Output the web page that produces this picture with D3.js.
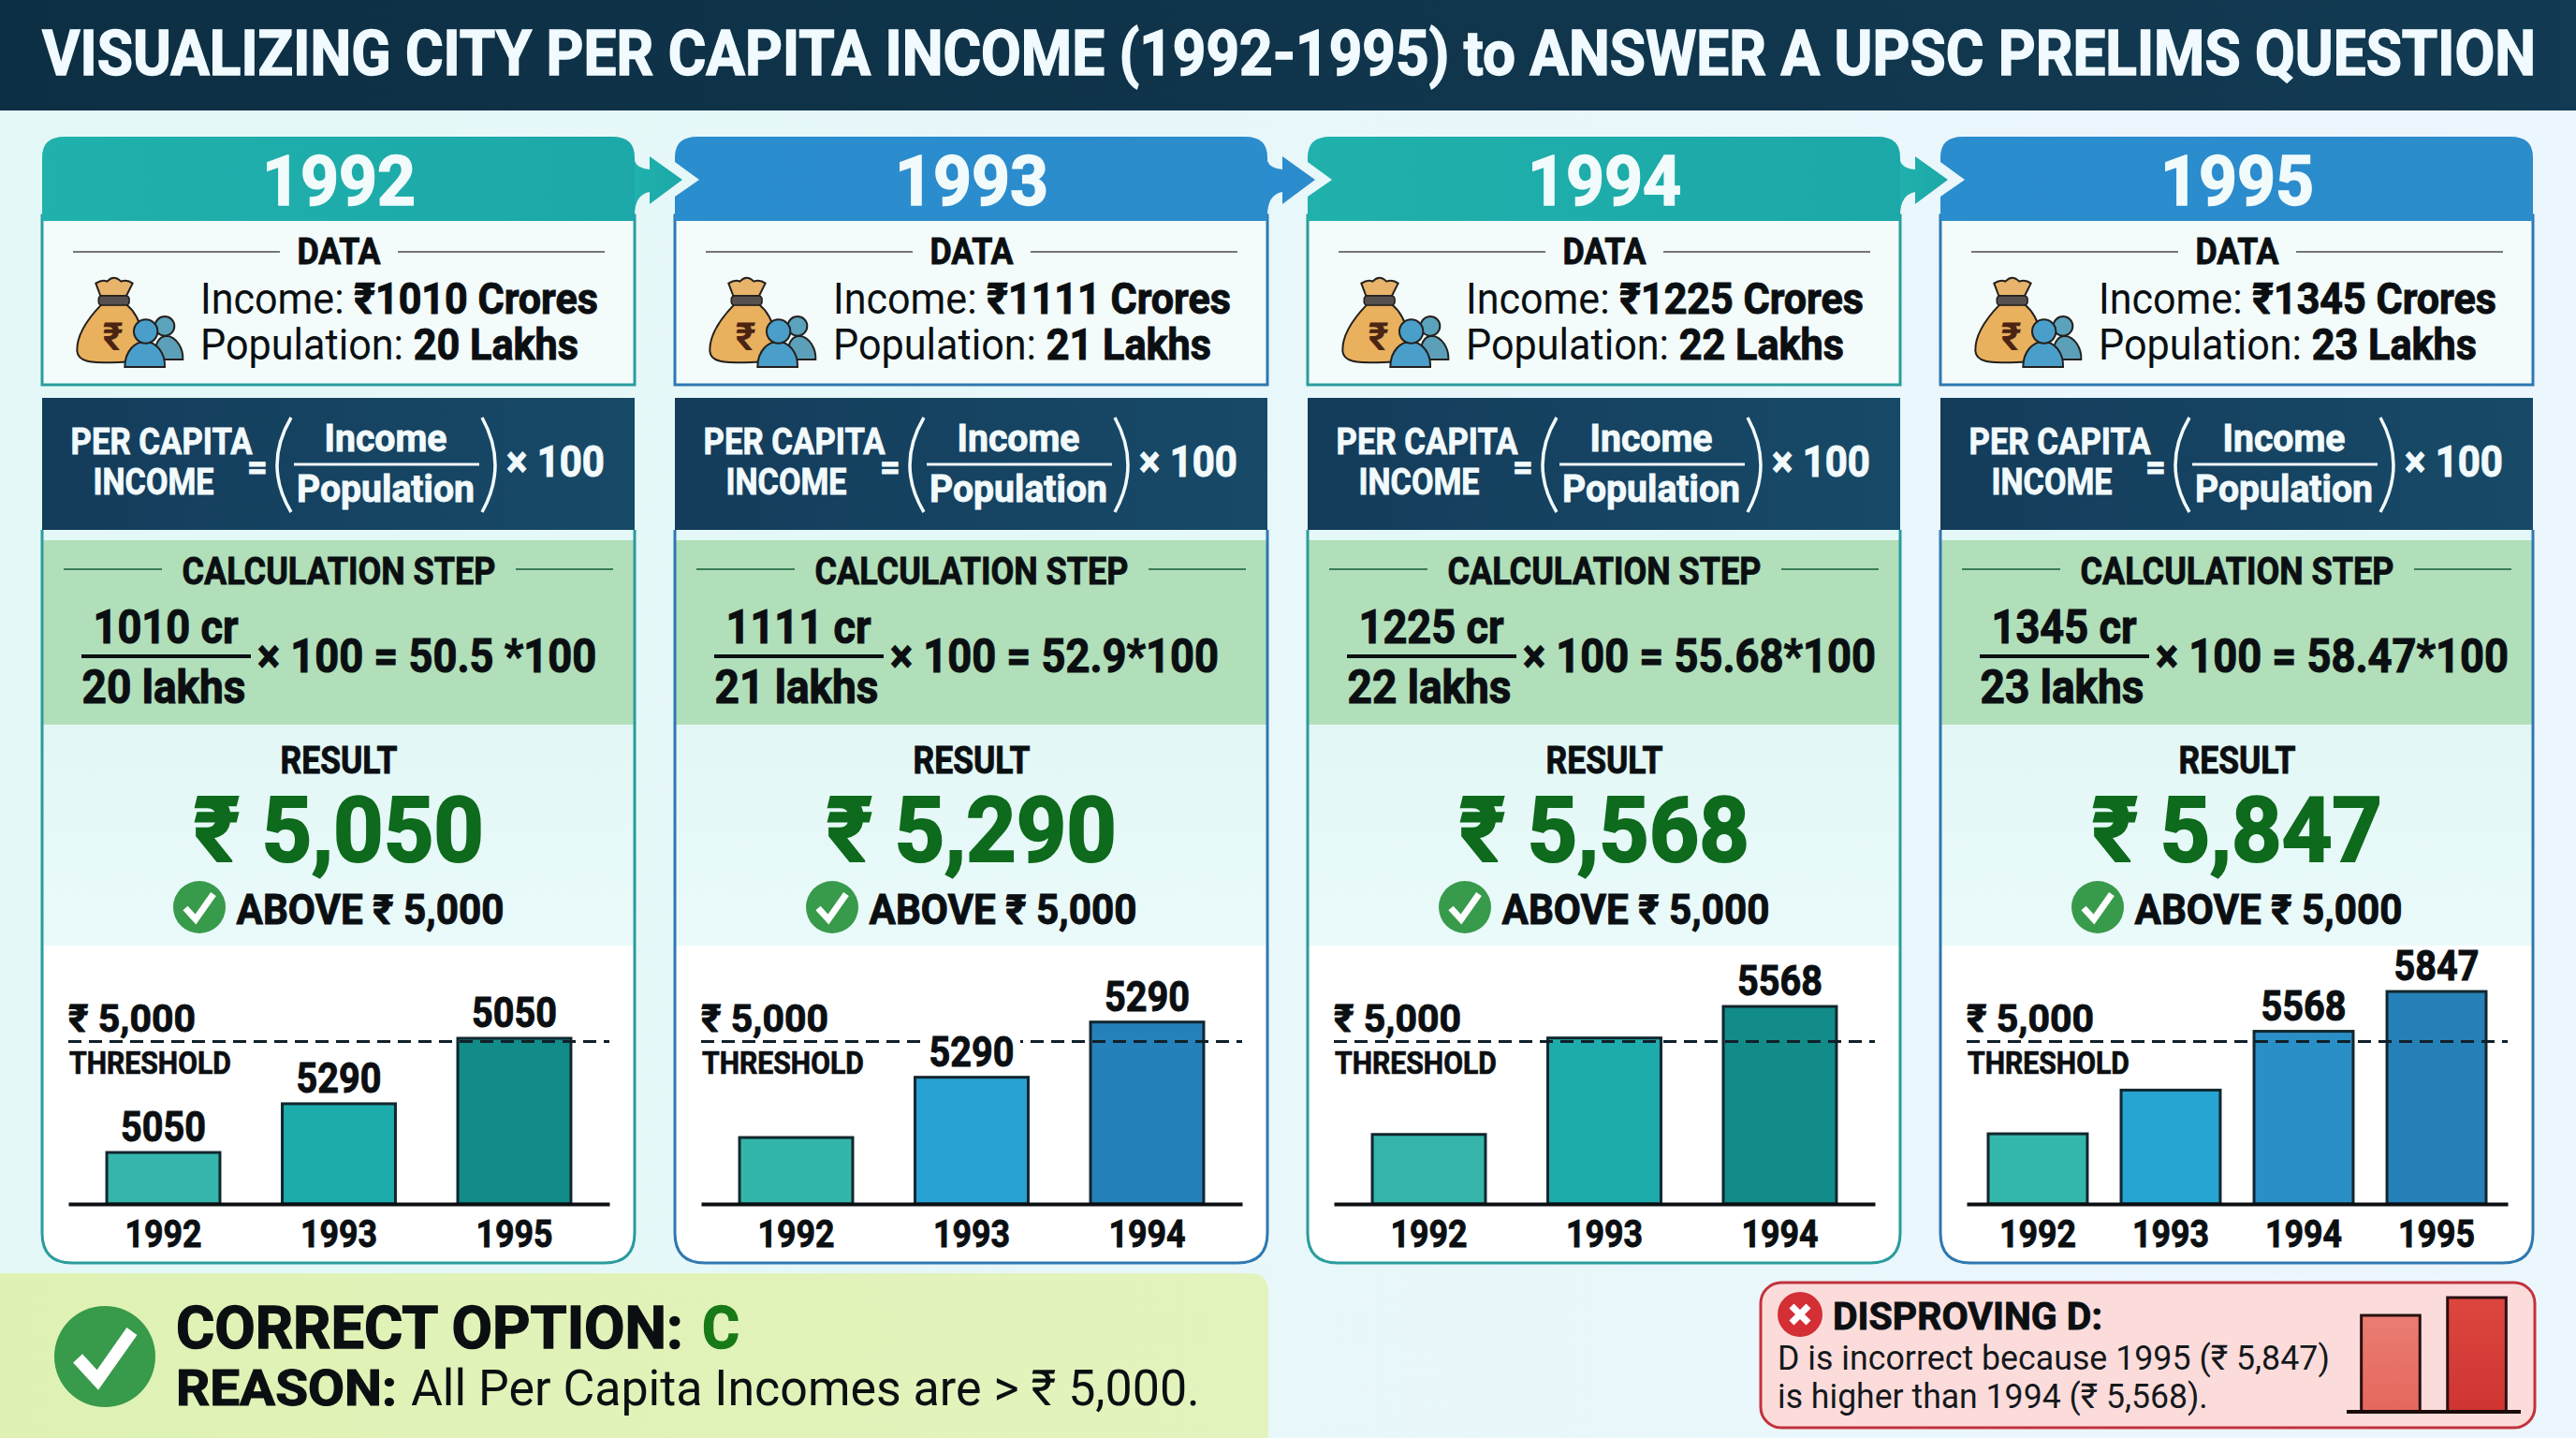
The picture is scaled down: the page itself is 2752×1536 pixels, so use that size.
<!DOCTYPE html>
<html>
<head>
<meta charset="utf-8">
<script src="https://cdn.jsdelivr.net/npm/d3@7"></script>
<style>
html, body { margin: 0; padding: 0; background: #e8f7fa; }
svg { display: block; font-family: Roboto, "Noto Sans", sans-serif; }
</style>
</head>
<body>
<div id="chart"></div>
<script>
// values
var years = ["1992", "1993", "1994", "1995"];
var incomes = [1010, 1111, 1225, 1345];
var populations = [20, 21, 22, 23];
var calcResults = ["50.5 *100", "52.9*100", "55.68*100", "58.47*100"];
var results = [5050, 5290, 5568, 5847];
var threshold = 5000;

// the small bars: their printed labels do not follow their drawn heights,
// so heights are read against the 5,000 line and labels kept apart
var barYears = [
  ["1992", "1993", "1995"],
  ["1992", "1993", "1994"],
  ["1992", "1993", "1994"],
  ["1992", "1993", "1994", "1995"]
];
var barHeights = [
  [4317, 4617, 5020],
  [4409, 4780, 5120],
  [4428, 5022, 5216],
  [4432, 4701, 5063, 5308]
];
var barLabels = [
  ["5050", "5290", "5050"],
  [null, "5290", "5290"],
  [null, null, "5568"],
  [null, null, "5568", "5847"]
];
var disproveYears = ["1994", "1995"];
var disproveValues = [5568, 5847];

var W = 2752, H = 1536;
var cardX = [45, 721, 1397, 2073];
var cardW = 633;

var teal = { a: "#20b1ac", b: "#1ca8a8", line: "#2b9c9c" };
var blue = { a: "#2a8dce", b: "#2c8ccc", line: "#2f78b0" };
var cardColors = [teal, blue, teal, blue];
var tealBars = ["#35b5ab", "#1eabac", "#128c88"];
var blueBars = ["#33b6a9", "#28a2d3", "#2581ba"];
var barFills = [tealBars, blueBars, tealBars, ["#35b6aa", "#26a4d2", "#2a8fc6", "#2580b7"]];
var ink = "#0b0f12";

var svg = d3.select("#chart").append("svg")
  .attr("width", W)
  .attr("height", H)
  .attr("viewBox", [0, 0, W, H]);

var defs = svg.append("defs");
function gradient(id, c1, c2, vertical) {
  var g = defs.append("linearGradient").attr("id", id)
    .attr("x1", 0).attr("y1", 0)
    .attr("x2", vertical ? 0 : 1).attr("y2", vertical ? 1 : 0);
  g.append("stop").attr("offset", "0%").attr("stop-color", c1);
  g.append("stop").attr("offset", "100%").attr("stop-color", c2);
}
gradient("bg", "#e4f8f7", "#ecf6fd");
gradient("titleBg", "#0d2f44", "#123a52");
gradient("headTeal", teal.a, teal.b);
gradient("headBlue", blue.a, blue.b);
gradient("formulaBg", "#143c5b", "#174a68");
gradient("resultBg", "#e2f7f5", "#eafafa", true);
gradient("greenBg", "#dff2b4", "#e3f3bd");
gradient("redA", "#ea7d72", "#e5675d", true);
gradient("redB", "#dd463f", "#cf3431", true);

// text helper, opts.w squeezes to a width in px, opts.sx squeezes by a factor
// squeezed bold type goes thin, a hairline of its own colour brings it back
function txt(parent, str, x, y, size, weight, fill, anchor, opts) {
  opts = opts || {};
  var t = parent.append("text")
    .attr("font-size", size)
    .attr("font-weight", weight)
    .attr("fill", fill)
    .attr("text-anchor", anchor || "start");
  if (Array.isArray(str)) {
    str.forEach(function(s) {
      var sp = t.append("tspan")
        .attr("font-weight", s[1])
        .attr("fill", s[2] || fill)
        .attr("xml:space", "preserve")
        .text(s[0]);
      if (s[1] >= 700) sp.attr("stroke", s[2] || fill).attr("stroke-width", size * 0.022);
    });
  } else {
    t.text(str);
    if (weight >= 700) t.attr("stroke", fill).attr("stroke-width", size * 0.022);
  }
  var sx = opts.sx || 1;
  if (opts.w) sx = opts.w / t.node().getComputedTextLength();
  t.attr("transform", "translate(" + x + "," + y + ") scale(" + sx + ",1)");
  return t;
}

svg.append("rect").attr("width", W).attr("height", H).attr("fill", "url(#bg)");

// title
svg.append("rect").attr("width", W).attr("height", 118).attr("fill", "url(#titleBg)");
txt(svg, "VISUALIZING CITY PER CAPITA INCOME (1992-1995) to ANSWER A UPSC PRELIMS QUESTION",
  45, 80, 66, 700, "#f1fbff", "start", { w: 2665 });

function drawCard(i) {
  var x0 = cardX[i], c = cardColors[i];
  var g = svg.append("g").attr("transform", "translate(" + x0 + ",0)");
  var head = i % 2 ? "url(#headBlue)" : "url(#headTeal)";
  var mid = 317;

  // data box
  g.append("rect").attr("x", 0).attr("y", 230).attr("width", cardW).attr("height", 181)
    .attr("fill", "#f3fcfb").attr("stroke", c.line).attr("stroke-width", 3);

  // year header with notch and arrow
  var notch = i == 0 ? "L0,172" : "L0,210 L26,192 L0,173";
  g.append("path")
    .attr("d", "M0,236 " + notch + " L0,168 Q0,146 24,146 L609,146 Q633,146 633,168 L633,236 Z")
    .attr("fill", head);
  if (i < 3) {
    g.append("path")
      .attr("d", "M633,172 Q636,180 649,181 L649,167 L684,192 L649,218 L649,205 Q633,208 633,230 Z")
      .attr("fill", head);
  }
  txt(g, years[i], mid, 219, 74, 700, "#f2fbfb", "middle", { w: 164 });

  txt(g, "DATA", mid, 282, 39, 700, ink, "middle", { w: 89 });
  g.append("line").attr("x1", 33).attr("x2", 254).attr("y1", 269).attr("y2", 269).attr("stroke", "#777").attr("stroke-width", 2);
  g.append("line").attr("x1", 380).attr("x2", 601).attr("y1", 269).attr("y2", 269).attr("stroke", "#777").attr("stroke-width", 2);
  drawIcon(g);
  txt(g, [["Income: ", 400], ["₹" + incomes[i] + " Crores", 700]], 169, 335, 46, 400, ink, "start", { w: 425 });
  txt(g, [["Population: ", 400], [populations[i] + " Lakhs", 700]], 169, 384, 46, 400, ink, "start", { w: 404 });

  // body shell
  g.append("path")
    .attr("d", "M0,425 L633,425 L633,1317 Q633,1349 601,1349 L32,1349 Q0,1349 0,1317 Z")
    .attr("fill", "#fff");

  // formula strip
  g.append("rect").attr("y", 425).attr("width", cardW).attr("height", 141).attr("fill", "url(#formulaBg)");
  g.append("rect").attr("y", 566).attr("width", cardW).attr("height", 11).attr("fill", "#e4f8f8");
  var wh = "#f2fafc";
  txt(g, "PER CAPITA", 127.5, 485, 38, 700, wh, "middle", { w: 194 });
  txt(g, "INCOME", 119, 528, 38, 700, wh, "middle", { w: 129 });
  txt(g, "=", 230, 512, 38, 700, wh, "middle");
  g.append("path").attr("d", "M266,446 Q236,497 266,547").attr("fill", "none").attr("stroke", wh).attr("stroke-width", 3.5);
  g.append("path").attr("d", "M470,446 Q498,497 470,547").attr("fill", "none").attr("stroke", wh).attr("stroke-width", 3.5);
  txt(g, "Income", 367, 482, 41, 700, wh, "middle", { w: 131 });
  g.append("line").attr("x1", 269).attr("x2", 467).attr("y1", 496).attr("y2", 496).attr("stroke", wh).attr("stroke-width", 3);
  txt(g, "Population", 367, 536, 41, 700, wh, "middle", { w: 190 });
  txt(g, "× 100", 496, 509, 47, 700, wh, "start", { w: 105 });

  // calculation strip
  g.append("rect").attr("y", 577).attr("width", cardW).attr("height", 197).attr("fill", "#b1dfba");
  txt(g, "CALCULATION STEP", mid, 624, 41, 700, ink, "middle", { w: 335 });
  g.append("line").attr("x1", 23).attr("x2", 128).attr("y1", 608).attr("y2", 608).attr("stroke", "#3c7d58").attr("stroke-width", 2);
  g.append("line").attr("x1", 506).attr("x2", 610).attr("y1", 608).attr("y2", 608).attr("stroke", "#3c7d58").attr("stroke-width", 2);
  txt(g, incomes[i] + " cr", 132, 687, 50, 700, ink, "middle", { w: 155 });
  g.append("line").attr("x1", 42).attr("x2", 223).attr("y1", 701).attr("y2", 701).attr("stroke", ink).attr("stroke-width", 4);
  txt(g, populations[i] + " lakhs", 130, 751, 50, 700, ink, "middle", { w: 175 });
  txt(g, "× 100 = " + calcResults[i], 230, 718, 50, 700, ink, "start", { sx: 0.905 });

  // result strip
  g.append("rect").attr("y", 774).attr("width", cardW).attr("height", 236).attr("fill", "url(#resultBg)");
  txt(g, "RESULT", mid, 826, 40, 700, ink, "middle", { w: 125 });
  txt(g, "₹ " + d3.format(",")(results[i]), mid, 920, 97, 700, "#0e6a1c", "middle", { w: 310 });
  drawCheck(g, 168, 969, 28);
  txt(g, "ABOVE ₹ " + d3.format(",")(threshold), 207.5, 987, 44, 700, ink, "start", { w: 286 });

  drawBars(g, i);

  // card outline
  g.append("path")
    .attr("d", "M0,566 L0,1317 Q0,1349 32,1349 L601,1349 Q633,1349 633,1317 L633,566")
    .attr("fill", "none").attr("stroke", c.line).attr("stroke-width", 3);
}

function drawIcon(g) {
  var ic = g.append("g").attr("transform", "translate(25,280) scale(0.3333)");
  ic.append("path")
    .attr("d", "M112,108 L97,68 Q118,55 133,62 Q155,38 178,62 Q198,55 215,68 L195,108 Z")
    .attr("fill", "#e8b36a").attr("stroke", "#23201e").attr("stroke-width", 6);
  ic.append("path")
    .attr("d", "M115,136 C80,172 35,230 37,285 C40,322 85,322 150,322 L240,318 C265,290 250,180 195,136 Z")
    .attr("fill", "#e9b05e").attr("stroke", "#23201e").attr("stroke-width", 6);
  ic.append("rect").attr("x", 106).attr("y", 108).attr("width", 98).attr("height", 30).attr("rx", 10)
    .attr("fill", "#56504f").attr("stroke", "#23201e").attr("stroke-width", 5);
  ic.append("text").attr("x", 152).attr("y", 282).attr("text-anchor", "middle")
    .attr("font-size", 125).attr("font-weight", 700).attr("fill", "#4b2412").text("₹");
  ic.append("path").attr("d", "M285,312 C285,250 305,236 325,236 C355,240 378,275 376,312 Z")
    .attr("fill", "#5c9fb8").attr("stroke", "#23201e").attr("stroke-width", 6);
  ic.append("circle").attr("cx", 318).attr("cy", 205).attr("r", 31)
    .attr("fill", "#5ba3bd").attr("stroke", "#23201e").attr("stroke-width", 6);
  ic.append("path").attr("d", "M190,336 C190,282 225,255 255,255 C290,255 320,290 318,336 Z")
    .attr("fill", "#4a9fca").attr("stroke", "#23201e").attr("stroke-width", 6);
  ic.append("circle").attr("cx", 257).attr("cy", 222).attr("r", 38)
    .attr("fill", "#4a9fca").attr("stroke", "#23201e").attr("stroke-width", 6);
}

function drawCheck(g, cx, cy, r) {
  g.append("circle").attr("cx", cx).attr("cy", cy).attr("r", r).attr("fill", "#389a4b");
  var k = r / 28;
  g.append("path")
    .attr("d", "M" + (cx - 15 * k) + "," + (cy + 1 * k) + " L" + (cx - 4 * k) + "," + (cy + 13 * k) + " L" + (cx + 15 * k) + "," + (cy - 14 * k))
    .attr("fill", "none").attr("stroke", "#fff").attr("stroke-width", 7 * k);
}

function drawBars(g, i) {
  var y = d3.scaleLinear().domain([4000, threshold]).range([1286, 1112.5]);
  var n = barYears[i].length;
  var x = d3.scaleBand()
    .domain(barYears[i])
    .range([28, 606])
    .paddingInner(n == 4 ? 0.254 : 0.355)
    .paddingOuter(n == 4 ? 0.162 : 0.219);
  var rows = barYears[i].map(function(yr, k) {
    return { year: yr, h: barHeights[i][k], label: barLabels[i][k], fill: barFills[i][k] };
  });

  g.selectAll("rect.bar").data(rows).enter().append("rect")
    .attr("class", "bar")
    .attr("x", function(d) { return x(d.year); })
    .attr("width", x.bandwidth())
    .attr("y", function(d) { return y(d.h); })
    .attr("height", function(d) { return y(4000) - y(d.h); })
    .attr("fill", function(d) { return d.fill; })
    .attr("stroke", "#12262e")
    .attr("stroke-width", 3);

  g.append("line")
    .attr("x1", 28).attr("x2", 606)
    .attr("y1", y(threshold)).attr("y2", y(threshold))
    .attr("stroke", "#10202a").attr("stroke-width", 3)
    .attr("stroke-dasharray", "14 8");

  rows.filter(function(d) { return d.label; }).forEach(function(d) {
    // white rect behind, the label breaks the dashed line where they meet
    var cx = x(d.year) + x.bandwidth() / 2;
    g.append("rect").attr("x", cx - 52).attr("y", y(d.h) - 48).attr("width", 104).attr("height", 38).attr("fill", "#fff");
    txt(g, d.label, cx, y(d.h) - 12, 45, 700, ink, "middle", { w: 91 });
  });

  txt(g, "₹ " + d3.format(",")(threshold), 28, 1102, 41, 700, ink, "start", { w: 136 });
  txt(g, "THRESHOLD", 29, 1147, 34, 700, ink, "start", { w: 173 });

  var axis = g.append("g")
    .attr("transform", "translate(0," + y(4000) + ")")
    .call(d3.axisBottom(x).tickSize(0));
  axis.select(".domain").attr("stroke", ink).attr("stroke-width", 4);
  axis.selectAll("text")
    .attr("y", 0).attr("dy", 0)
    .attr("font-size", 40).attr("font-weight", 700).attr("font-family", "Roboto")
    .attr("fill", ink).attr("stroke", ink).attr("stroke-width", 0.9)
    .attr("transform", function() {
      return "translate(0,46) scale(" + 82 / this.getComputedTextLength() + ",1)";
    });
}

// draw right to left so each arrow sits over the next card's notch gap
[3, 2, 1, 0].forEach(drawCard);

// correct option panel
var ok = svg.append("g");
ok.append("path").attr("d", "M0,1360 L1335,1360 Q1355,1360 1355,1380 L1355,1536 L0,1536 Z").attr("fill", "url(#greenBg)");
drawCheck(ok, 112, 1449, 54);
txt(ok, "CORRECT OPTION:", 188, 1440, 63, 700, ink, "start", { w: 542 });
txt(ok, "C", 750, 1440, 63, 700, "#177a17", "start", { w: 40 });
txt(ok, "REASON:", 188, 1501, 53, 700, ink, "start", { w: 236 });
txt(ok, "All Per Capita Incomes are > ₹ " + d3.format(",")(threshold) + ".", 439, 1501, 53, 400, ink, "start", { w: 843 });

// disproving panel
var bad = svg.append("g");
bad.append("rect").attr("x", 1881).attr("y", 1370).attr("width", 827).attr("height", 155).attr("rx", 22)
  .attr("fill", "#fbdcdb").attr("stroke", "#c2323c").attr("stroke-width", 3);
bad.append("circle").attr("cx", 1923).attr("cy", 1404).attr("r", 24).attr("fill", "#d32f35");
bad.append("path").attr("d", "M1914,1395 L1932,1413 M1932,1395 L1914,1413").attr("stroke", "#fff").attr("stroke-width", 7);
txt(bad, "DISPROVING D:", 1958, 1420, 40, 700, ink, "start", { w: 288 });
txt(bad, "D is incorrect because 1995 (₹ " + d3.format(",")(disproveValues[1]) + ")", 1899, 1463, 37, 400, "#15181b", "start", { w: 590 });
txt(bad, "is higher than 1994 (₹ " + d3.format(",")(disproveValues[0]) + ").", 1899, 1504, 37, 400, "#15181b", "start", { w: 460 });

var dx = d3.scaleBand().domain(disproveYears).range([2507, 2693]).paddingInner(0.32).paddingOuter(0.17);
var dy = d3.scaleLinear().domain([4056, 5847]).range([1508, 1386]);
bad.selectAll("rect.mini").data(disproveYears).enter().append("rect")
  .attr("class", "mini")
  .attr("x", function(d) { return dx(d); })
  .attr("width", dx.bandwidth())
  .attr("y", function(d, k) { return dy(disproveValues[k]); })
  .attr("height", function(d, k) { return 1508 - dy(disproveValues[k]); })
  .attr("fill", function(d, k) { return k ? "url(#redB)" : "url(#redA)"; })
  .attr("stroke", "#2a1012")
  .attr("stroke-width", 3);
bad.append("line").attr("x1", 2507).attr("x2", 2693).attr("y1", 1508).attr("y2", 1508).attr("stroke", "#1a0a0a").attr("stroke-width", 4);
</script>
</body>
</html>
